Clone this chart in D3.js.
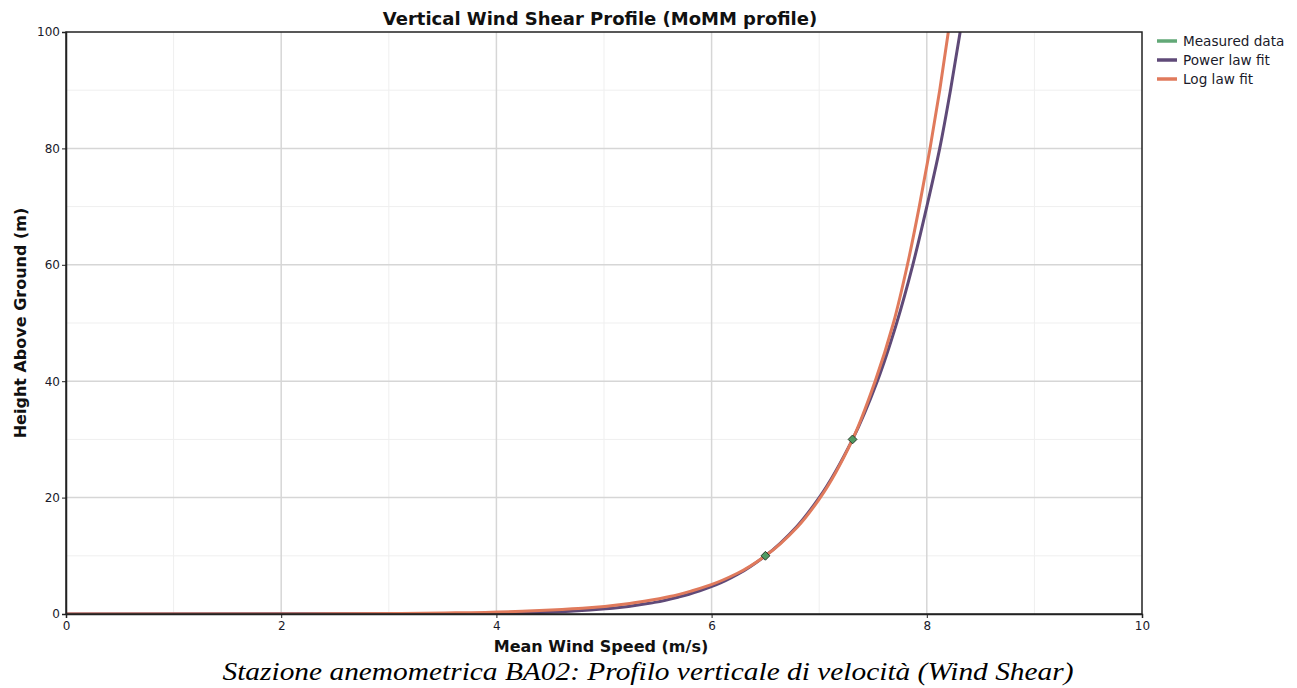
<!DOCTYPE html>
<html>
<head>
<meta charset="utf-8">
<script src="https://cdn.jsdelivr.net/npm/d3@7/dist/d3.min.js"></script>
<style>
  html, body { margin: 0; padding: 0; background: #fff; }
  svg { display: block; }
</style>
</head>
<body>
<svg id="chart" width="1297" height="688"></svg>
<script>
// Measured mean wind speed (m/s) at each anemometer height (m)
const measuredHeights = [10, 30];
const measuredSpeeds = [6.50, 7.31];

// Power law fit profile: heights (m) and speeds (m/s)
const powerHeights = [0, 0.1, 0.2, 0.5, 1, 2, 3, 4, 5, 7, 10, 15, 20, 30, 40, 50, 60, 70, 80, 90, 100];
const powerSpeeds  = [0, 3.97, 4.28, 4.72, 5.08, 5.47, 5.71, 5.89, 6.04, 6.26, 6.50, 6.79, 7.00, 7.31, 7.54, 7.72, 7.87, 8.00, 8.12, 8.22, 8.31];

// Log law fit profile: heights (m) and speeds (m/s)
const logHeights = [0, 0.02, 0.05, 0.1, 0.2, 0.5, 1, 2, 3, 4, 5, 7, 10, 15, 20, 30, 40, 50, 60, 70, 80, 90, 100];
const logSpeeds  = [0, 2.20, 2.60, 3.11, 3.62, 4.29, 4.80, 5.31, 5.61, 5.82, 5.99, 6.24, 6.50, 6.80, 7.01, 7.31, 7.52, 7.69, 7.82, 7.93, 8.03, 8.12, 8.20];

const xTicks = [0, 2, 4, 6, 8, 10];
const yTicks = [0, 20, 40, 60, 80, 100];
const xMinor = [1, 3, 5, 7, 9];
const yMinor = [10, 30, 50, 70, 90];

const legendLabels = ["Measured data", "Power law fit", "Log law fit"];
const legendColors = ["#62a877", "#5f4a78", "#e07a5c"];

const SANS = "'DejaVu Sans', Verdana, sans-serif";

const svg = d3.select("#chart");
const m = { left: 66, right: 1142, top: 32, bottom: 614 };

const x = d3.scaleLinear().domain([0, 10]).range([m.left, m.right]);
const y = d3.scaleLinear().domain([0, 100]).range([m.bottom, m.top]);

const plot = svg.append("g");

// minor grid
plot.selectAll(".vminor").data(xMinor).join("line")
  .attr("x1", d => x(d)).attr("x2", d => x(d))
  .attr("y1", m.top).attr("y2", m.bottom)
  .attr("stroke", "#efefef").attr("stroke-width", 1);
plot.selectAll(".hminor").data(yMinor).join("line")
  .attr("y1", d => y(d)).attr("y2", d => y(d))
  .attr("x1", m.left).attr("x2", m.right)
  .attr("stroke", "#efefef").attr("stroke-width", 1);

// major grid
plot.selectAll(".vmajor").data(xTicks.slice(1, -1)).join("line")
  .attr("x1", d => x(d)).attr("x2", d => x(d))
  .attr("y1", m.top).attr("y2", m.bottom)
  .attr("stroke", "#d6d6d6").attr("stroke-width", 1.5);
plot.selectAll(".hmajor").data(yTicks.slice(1, -1)).join("line")
  .attr("y1", d => y(d)).attr("y2", d => y(d))
  .attr("x1", m.left).attr("x2", m.right)
  .attr("stroke", "#d6d6d6").attr("stroke-width", 1.5);

// clip for fitted profiles
svg.append("defs").append("clipPath").attr("id", "plotClip")
  .append("rect").attr("x", m.left).attr("y", m.top)
  .attr("width", m.right - m.left).attr("height", m.bottom - m.top);

const line = d3.line()
  .x(d => x(d[0])).y(d => y(d[1]))
  .curve(d3.curveMonotoneY);

const powerPts = powerHeights.map((h, i) => [powerSpeeds[i], h]);
const logPts = logHeights.map((h, i) => [logSpeeds[i], h]);

const curves = svg.append("g").attr("clip-path", "url(#plotClip)");
curves.append("path").datum(powerPts)
  .attr("d", line).attr("fill", "none")
  .attr("stroke", legendColors[1]).attr("stroke-width", 3);
curves.append("path").datum(logPts)
  .attr("d", line).attr("fill", "none")
  .attr("stroke", legendColors[2]).attr("stroke-width", 3);

// measured points as diamonds
svg.append("g").selectAll("path").data(measuredHeights.map((h, i) => [measuredSpeeds[i], h])).join("path")
  .attr("transform", d => `translate(${x(d[0])},${y(d[1])})`)
  .attr("d", d3.symbol().type(d3.symbolDiamond2).size(50))
  .attr("fill", "#4f9a62").attr("stroke", "#2b3b2b").attr("stroke-width", 1);

// frame
svg.append("rect")
  .attr("x", m.left).attr("y", m.top)
  .attr("width", m.right - m.left).attr("height", m.bottom - m.top)
  .attr("fill", "none").attr("stroke", "#222").attr("stroke-width", 1.5);

// axes
const xAxis = d3.axisBottom(x).tickValues(xTicks).tickSize(4).tickPadding(3).tickFormat(d3.format("d"));
const yAxis = d3.axisLeft(y).tickValues(yTicks).tickSize(4).tickPadding(2).tickFormat(d3.format("d"));

const gx = svg.append("g").attr("transform", `translate(0,${m.bottom})`).call(xAxis);
const gy = svg.append("g").attr("transform", `translate(${m.left},0)`).call(yAxis);
[gx, gy].forEach(g => {
  g.select(".domain").attr("stroke", "#222").attr("stroke-width", 1.5);
  g.selectAll(".tick line").attr("stroke", "#222");
  g.selectAll(".tick text").attr("fill", "#1a1a2a")
    .style("font-family", SANS).style("font-size", "12px");
});

// title
svg.append("text")
  .attr("x", 600).attr("y", 25).attr("text-anchor", "middle")
  .style("font-family", SANS)
  .style("font-size", "18px").style("font-weight", "bold").attr("fill", "#111")
  .text("Vertical Wind Shear Profile (MoMM profile)");

// axis titles
svg.append("text")
  .attr("x", 601).attr("y", 652).attr("text-anchor", "middle")
  .style("font-family", SANS)
  .style("font-size", "16px").style("font-weight", "bold").attr("fill", "#111")
  .text("Mean Wind Speed (m/s)");

svg.append("text")
  .attr("transform", "translate(26,323) rotate(-90)").attr("text-anchor", "middle")
  .style("font-family", SANS)
  .style("font-size", "16px").style("font-weight", "bold").attr("fill", "#111")
  .text("Height Above Ground (m)");

// legend
const legend = svg.append("g").attr("transform", "translate(1157,41)");
legendLabels.forEach((lab, i) => {
  const gy2 = i * 19;
  legend.append("line")
    .attr("x1", 0).attr("x2", 20).attr("y1", gy2).attr("y2", gy2)
    .attr("stroke", legendColors[i]).attr("stroke-width", 3.5);
  legend.append("text")
    .attr("x", 26).attr("y", gy2 + 5)
    .style("font-family", SANS)
    .style("font-size", "13.6px").attr("fill", "#1a1a2a")
    .text(lab);
});

// caption
svg.append("text")
  .attr("x", 648).attr("y", 680).attr("text-anchor", "middle")
  .attr("textLength", 851).attr("lengthAdjust", "spacingAndGlyphs")
  .style("font-family", "'Liberation Serif', 'Times New Roman', serif")
  .style("font-style", "italic").style("font-size", "26px").attr("fill", "#000")
  .text("Stazione anemometrica BA02: Profilo verticale di velocità (Wind Shear)");
</script>
</body>
</html>
